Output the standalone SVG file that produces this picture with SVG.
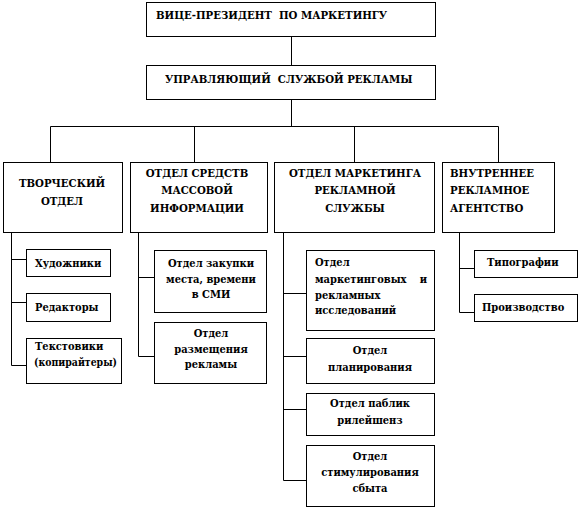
<svg xmlns="http://www.w3.org/2000/svg" width="582" height="510" viewBox="0 0 582 510" font-family="'DejaVu Serif Condensed', 'DejaVu Serif', serif" font-weight="bold">
<style>
rect{fill:#fff;stroke:#000;stroke-width:1}
.c{fill:none;stroke:#000;stroke-width:1}
text{fill:#000}
.h{font-size:11.3px}
.s{font-size:11px}
.m{text-anchor:middle}
</style>
<rect width="582" height="510" style="stroke:none"/>
<g id="connectors">
<path class="c" d="M291.5 37V65M291.5 99V126.5M50.5 126.5H498.5M50.5 126.5V162M194.5 126.5V162M354.5 126.5V162M498.5 126.5V162"/>
<path class="c" d="M11.5 232V365.5M11.5 259.5H26M11.5 302.5H26M11.5 365.5H26"/>
<path class="c" d="M138.5 232V356.5M138.5 277.5H154M138.5 356.5H154"/>
<path class="c" d="M283.5 232V480.5M283.5 293.5H306M283.5 356.5H306M283.5 409.5H306M283.5 480.5H306"/>
<path class="c" d="M459.5 232V312.5M459.5 268.5H474M459.5 312.5H474"/>
</g>
<g id="vp"><rect x="146.5" y="2.5" width="289" height="34"/><text class="h" x="156" y="19" xml:space="preserve">ВИЦЕ-ПРЕЗИДЕНТ  ПО МАРКЕТИНГУ</text></g>
<g id="head"><rect x="146.5" y="65.5" width="289" height="34"/><text class="h" x="165" y="83" xml:space="preserve">УПРАВЛЯЮЩИЙ  СЛУЖБОЙ РЕКЛАМЫ</text></g>
<g id="creative"><rect x="3.5" y="162.5" width="119" height="70"/><text class="h m" x="62" y="187">ТВОРЧЕСКИЙ</text><text class="h m" x="62" y="205">ОТДЕЛ</text></g>
<g id="media"><rect x="130.5" y="162.5" width="137" height="70"/><text class="h m" x="197" y="177">ОТДЕЛ СРЕДСТВ</text><text class="h m" x="197" y="194">МАССОВОЙ</text><text class="h m" x="197" y="212">ИНФОРМАЦИИ</text></g>
<g id="marketing"><rect x="274.5" y="162.5" width="160" height="70"/><text class="h m" x="355" y="177">ОТДЕЛ МАРКЕТИНГА</text><text class="h m" x="355" y="194">РЕКЛАМНОЙ</text><text class="h m" x="355" y="212">СЛУЖБЫ</text></g>
<g id="agency"><rect x="442.5" y="162.5" width="112" height="70"/><text class="h" x="450" y="177">ВНУТРЕННЕЕ</text><text class="h" x="450" y="194">РЕКЛАМНОЕ</text><text class="h" x="450" y="212">АГЕНТСТВО</text></g>
<g id="artists"><rect x="26.5" y="249.5" width="84" height="27"/><text class="s" x="35" y="267">Художники</text></g>
<g id="editors"><rect x="26.5" y="293.5" width="84" height="28"/><text class="s" x="35" y="311">Редакторы</text></g>
<g id="copywriters"><rect x="26.5" y="338.5" width="95" height="45"/><text class="s" x="35" y="350">Текстовики</text><text class="s" x="34" y="366" textLength="83" lengthAdjust="spacingAndGlyphs">(копирайтеры)</text></g>
<g id="purchase"><rect x="154.5" y="250.5" width="112" height="62"/><text class="s m" x="211" y="267">Отдел закупки</text><text class="s m" x="211" y="283">места, времени</text><text class="s m" x="211" y="298">в СМИ</text></g>
<g id="placement"><rect x="154.5" y="322.5" width="112" height="61"/><text class="s m" x="211" y="337">Отдел</text><text class="s m" x="211" y="353">размещения</text><text class="s m" x="211" y="368">рекламы</text></g>
<g id="research"><rect x="306.5" y="250.5" width="128" height="80"/><text class="s" x="315" y="266">Отдел</text><text class="s" x="315" y="283">маркетинговых</text><text class="s" x="427" y="283" text-anchor="end">и</text><text class="s" x="315" y="299">рекламных</text><text class="s" x="315" y="314">исследований</text></g>
<g id="planning"><rect x="306.5" y="338.5" width="128" height="45"/><text class="s m" x="370" y="354">Отдел</text><text class="s m" x="370" y="371">планирования</text></g>
<g id="pr"><rect x="306.5" y="393.5" width="128" height="42"/><text class="s m" x="370" y="407">Отдел паблик</text><text class="s m" x="370" y="424">рилейшенз</text></g>
<g id="promotion"><rect x="306.5" y="445.5" width="128" height="61"/><text class="s m" x="370" y="460">Отдел</text><text class="s m" x="370" y="476">стимулирования</text><text class="s m" x="370" y="492">сбыта</text></g>
<g id="printing"><rect x="474.5" y="250.5" width="103" height="27"/><text class="s" x="487" y="266">Типографии</text></g>
<g id="production"><rect x="474.5" y="294.5" width="103" height="27"/><text class="s" x="482" y="311">Производство</text></g>
</svg>
